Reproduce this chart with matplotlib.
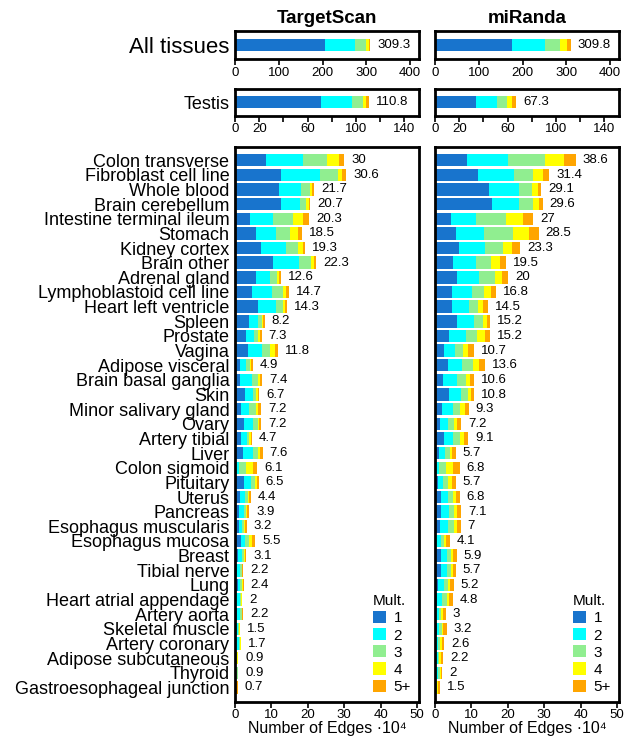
import numpy as np
import matplotlib
matplotlib.use("Agg")
import matplotlib.pyplot as plt
from matplotlib.patches import Patch

plt.rcParams['font.family'] = ['Liberation Sans', 'DejaVu Sans']

mult_labels = ["1", "2", "3", "4", "5+"]
mult_colors = ["#1874CD", "#00FFFF", "#90EE90", "#FFFF00", "#FFA500"]

tissues = [
    "Colon transverse", "Fibroblast cell line", "Whole blood", "Brain cerebellum",
    "Intestine terminal ileum", "Stomach", "Kidney cortex", "Brain other",
    "Adrenal gland", "Lymphoblastoid cell line", "Heart left ventricle", "Spleen",
    "Prostate", "Vagina", "Adipose visceral", "Brain basal ganglia", "Skin",
    "Minor salivary gland", "Ovary", "Artery tibial", "Liver", "Colon sigmoid",
    "Pituitary", "Uterus", "Pancreas", "Esophagus muscularis", "Esophagus mucosa",
    "Breast", "Tibial nerve", "Lung", "Heart atrial appendage", "Artery aorta",
    "Skeletal muscle", "Artery coronary", "Adipose subcutaneous", "Thyroid",
    "Gastroesophageal junction",
]

# edges (x10^4) per tissue, split by multiplicity 1, 2, 3, 4, 5+
ts_m1 = [8.5, 12.6, 12.1, 12.6, 4.1, 5.8, 7.1, 10.4, 5.8, 4.7, 6.3, 3.8, 3.0, 3.6, 1.4, 1.4, 2.7, 1.6, 2.5,
         1.6, 2.2, 0.3, 2.5, 1.4, 1.1, 1.1, 1.6, 0.8, 0.5, 0.8, 0.3, 0.5, 0.3, 0.3, 0.1, 0.1, 0.05]
ts_m2 = [10.2, 10.7, 6.0, 5.2, 6.4, 5.4, 6.9, 7.2, 3.8, 5.4, 4.9, 2.5, 2.2, 3.8, 1.6, 3.3, 2.2, 2.2, 2.4,
         1.7, 2.7, 0.8, 1.9, 1.3, 1.4, 0.7, 1.1, 1.1, 0.9, 0.6, 1.1, 0.9, 0.5, 0.8, 0.2, 0.3, 0.1]
ts_m3 = [6.5, 4.9, 2.5, 1.7, 5.4, 3.9, 3.3, 3.2, 1.9, 3.1, 2.0, 1.0, 1.1, 2.2, 1.1, 1.6, 0.9, 2.0, 1.4,
         0.5, 1.4, 1.9, 1.1, 0.8, 0.5, 0.7, 1.1, 0.6, 0.5, 0.6, 0.3, 0.5, 0.4, 0.3, 0.2, 0.3, 0.1]
ts_m4 = [3.3, 1.3, 0.5, 0.7, 2.7, 2.2, 1.3, 0.8, 0.5, 0.8, 0.5, 0.4, 0.6, 1.4, 0.4, 0.6, 0.5, 0.6, 0.4,
         0.5, 0.6, 1.9, 0.5, 0.4, 0.4, 0.3, 0.9, 0.3, 0.15, 0.2, 0.15, 0.15, 0.15, 0.15, 0.2, 0.1, 0.15]
ts_m5 = [1.5, 1.1, 0.6, 0.5, 1.7, 1.2, 0.7, 0.7, 0.6, 0.7, 0.6, 0.5, 0.4, 0.8, 0.4, 0.5, 0.4, 0.8, 0.5,
         0.4, 0.7, 1.2, 0.5, 0.5, 0.5, 0.4, 0.8, 0.3, 0.15, 0.2, 0.15, 0.15, 0.15, 0.15, 0.2, 0.1, 0.3]
ts_total = [30, 30.6, 21.7, 20.7, 20.3, 18.5, 19.3, 22.3, 12.6, 14.7, 14.3, 8.2, 7.3, 11.8, 4.9, 7.4, 6.7,
            7.2, 7.2, 4.7, 7.6, 6.1, 6.5, 4.4, 3.9, 3.2, 5.5, 3.1, 2.2, 2.4, 2, 2.2, 1.5, 1.7, 0.9, 0.9, 0.7]

mr_m1 = [8.8, 11.8, 14.8, 15.6, 4.4, 5.8, 6.6, 4.9, 6.0, 4.7, 4.7, 6.0, 3.8, 2.5, 3.6, 2.2, 3.8, 1.9, 1.4,
         2.5, 1.1, 0.3, 0.8, 1.6, 1.6, 1.4, 0.3, 1.6, 1.6, 0.8, 0.5, 0.3, 0.5, 0.3, 0.2, 0.2, 0.1]
mr_m2 = [11.2, 9.9, 8.2, 7.4, 6.8, 7.6, 7.1, 6.3, 6.1, 5.4, 4.6, 4.7, 4.7, 3.0, 3.8, 3.8, 3.3, 3.0, 2.2,
         2.4, 1.6, 0.8, 1.4, 2.0, 2.2, 2.2, 1.3, 1.7, 1.7, 1.7, 1.4, 0.8, 0.6, 0.5, 0.5, 0.6, 0.2]
mr_m3 = [10.2, 5.2, 3.6, 3.9, 8.3, 8.0, 4.9, 4.2, 4.4, 3.3, 2.5, 2.5, 3.0, 2.2, 3.0, 2.5, 1.9, 2.0, 1.6,
         2.0, 1.4, 1.9, 1.4, 1.3, 1.4, 1.6, 0.9, 1.1, 1.0, 1.1, 1.4, 0.6, 0.8, 0.6, 0.5, 0.5, 0.3]
mr_m4 = [5.2, 2.7, 1.6, 1.6, 4.6, 4.4, 2.5, 2.4, 1.9, 2.0, 1.4, 1.1, 2.2, 1.3, 1.7, 1.1, 0.9, 1.3, 0.8,
         1.1, 0.6, 1.9, 1.1, 0.9, 0.8, 0.8, 0.6, 0.5, 0.5, 0.6, 0.6, 0.5, 0.4, 0.4, 0.4, 0.3, 0.3]
mr_m5 = [3.2, 1.8, 0.9, 1.1, 2.9, 2.7, 2.2, 1.7, 1.6, 1.4, 1.3, 0.9, 1.5, 1.7, 1.5, 1.0, 0.9, 1.1, 1.2,
         1.1, 1.0, 1.9, 1.0, 1.0, 1.1, 1.0, 1.0, 1.0, 0.9, 1.0, 0.9, 0.8, 0.9, 0.8, 0.6, 0.4, 0.6]
mr_total = [38.6, 31.4, 29.1, 29.6, 27, 28.5, 23.3, 19.5, 20, 16.8, 14.5, 15.2, 15.2, 10.7, 13.6, 10.6,
            10.8, 9.3, 7.2, 9.1, 5.7, 6.8, 5.7, 6.8, 7.1, 7, 4.1, 5.9, 5.7, 5.2, 4.8, 3, 3.2, 2.6, 2.2, 2, 1.5]

# all tissues and testis (x10^4)
ts_all = [206, 68, 25.5, 5.5, 4.3]
ts_all_total = 309.3
mr_all = [176.8, 74.6, 34.3, 15.2, 8.9]
mr_all_total = 309.8
ts_testis = [70.8, 25.6, 9.2, 2.7, 2.5]
ts_testis_total = 110.8
mr_testis = [33.9, 16.9, 8.4, 4.7, 3.4]
mr_testis_total = 67.3


def style_axes(ax):
    for s in ax.spines.values():
        s.set_linewidth(2)
    ax.tick_params(axis='x', direction='out', length=4, width=1.2, labelsize=9.5, pad=1.5)
    ax.tick_params(axis='y', length=0, pad=4, labelsize=13)


def stacked(ax, segs, totals, ypos, height):
    segs = np.array(segs, dtype=float)
    left = np.zeros(segs.shape[1])
    for k in range(segs.shape[0]):
        ax.barh(ypos, segs[k], left=left, height=height, color=mult_colors[k], linewidth=0)
        left += segs[k]
    for y, t in zip(ypos, totals):
        ax.annotate('{:g}'.format(t), (t, y), xytext=(5, 0), textcoords='offset points',
                    ha='left', va='center', fontsize=9.5)


fig = plt.figure(figsize=(6.29, 7.39), dpi=100)

cols = [0.3736, 0.6916]
w = 0.2925
top_axes = [fig.add_axes([c, 0.9202, w, 0.0379]) for c in cols]
testis_axes = [fig.add_axes([c, 0.8437, w, 0.0365]) for c in cols]
main_axes = [fig.add_axes([c, 0.0505, w, 0.7506]) for c in cols]

for i, (ax, segs, tot) in enumerate(zip(top_axes, [ts_all, mr_all], [ts_all_total, mr_all_total])):
    stacked(ax, [[v] for v in segs], [tot], [0], 0.45)
    ax.set_xlim(0, 420)
    ax.set_ylim(-0.5, 0.5)
    ax.set_xticks([0, 100, 200, 300, 400])
    ax.set_yticks([0])
    ax.set_yticklabels(["All tissues"] if i == 0 else [""])
    style_axes(ax)
top_axes[0].tick_params(axis='y', labelsize=16)

top_axes[0].set_title("TargetScan", fontsize=13.5, fontweight='bold', pad=6)
top_axes[1].set_title("miRanda", fontsize=13.5, fontweight='bold', pad=6)

for i, (ax, segs, tot) in enumerate(zip(testis_axes, [ts_testis, mr_testis], [ts_testis_total, mr_testis_total])):
    stacked(ax, [[v] for v in segs], [tot], [0], 0.45)
    ax.set_xlim(0, 152)
    ax.set_ylim(-0.5, 0.5)
    ax.set_xticks(range(0, 141, 20))
    ax.set_xticklabels(["0", "20", "", "60", "", "100", "", "140"])
    ax.set_yticks([0])
    ax.set_yticklabels(["Testis"] if i == 0 else [""])
    style_axes(ax)

rows = np.arange(len(tissues))
for i, (ax, segs, tot) in enumerate(zip(main_axes,
                                        [[ts_m1, ts_m2, ts_m3, ts_m4, ts_m5], [mr_m1, mr_m2, mr_m3, mr_m4, mr_m5]],
                                        [ts_total, mr_total])):
    stacked(ax, segs, tot, rows, 0.85)
    ax.set_xlim(0, 50.5)
    ax.set_ylim(36.97, -0.9)
    ax.set_xticks([0, 10, 20, 30, 40, 50])
    ax.set_yticks(rows)
    ax.set_yticklabels(tissues if i == 0 else [""] * len(tissues))
    style_axes(ax)
    ax.set_xlabel("Number of Edges \u00b710\u2074", fontsize=11.5, labelpad=0)
    handles = [Patch(facecolor=c, edgecolor='none') for c in mult_colors]
    ax.legend(handles, mult_labels, title="Mult.", loc='lower left', bbox_to_anchor=(0.75, 0.014),
              frameon=False, fontsize=11, title_fontsize=11, alignment='left',
              handlelength=0.85, handleheight=0.85, handletextpad=0.5, labelspacing=0.18,
              borderpad=0, borderaxespad=0)

plt.savefig('out.png', dpi=100)
